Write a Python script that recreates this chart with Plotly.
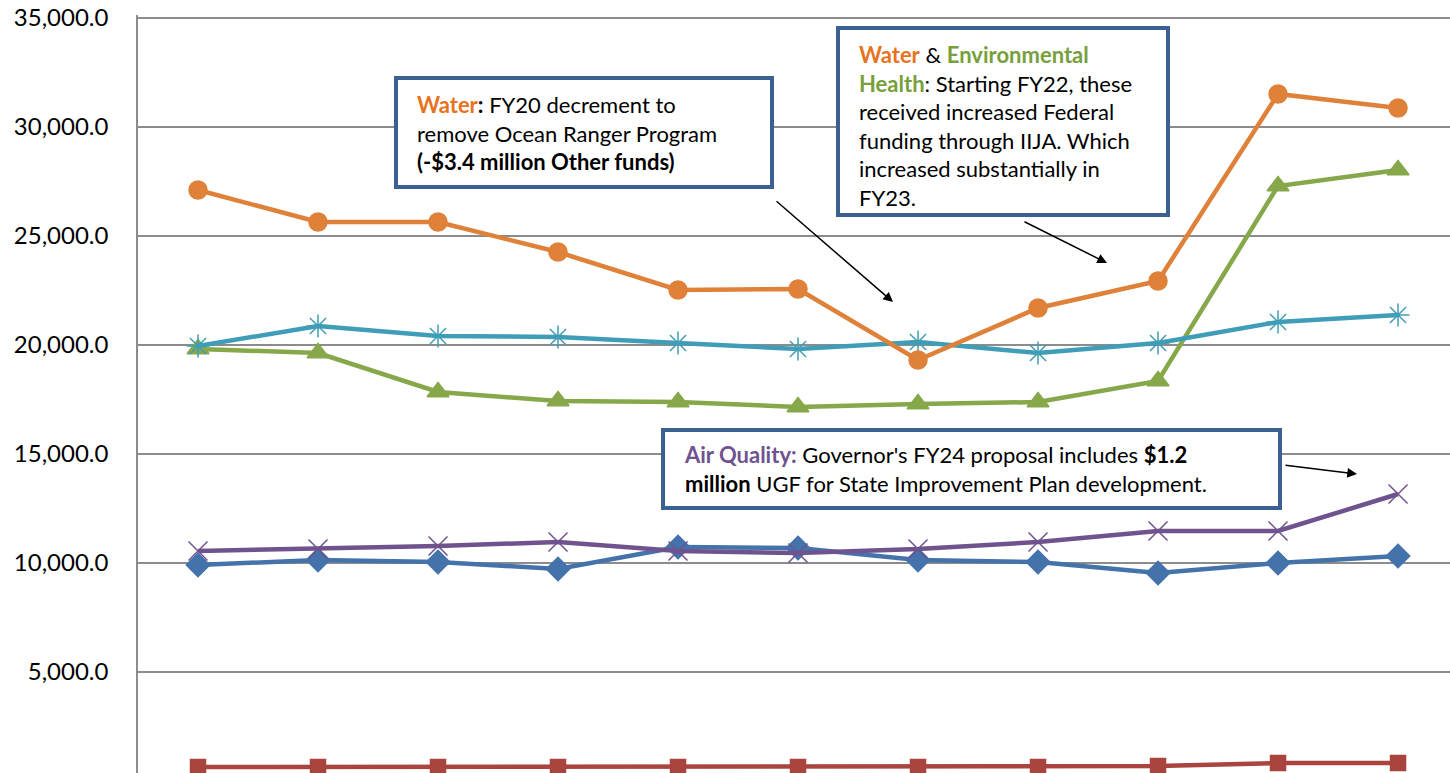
import plotly.graph_objects as go

years = ['FY14', 'FY15', 'FY16', 'FY17', 'FY18', 'FY19', 'FY20', 'FY21', 'FY22', 'FY23', 'FY24']

support = [9908, 10138, 10046, 9725, 10734, 10688, 10138, 10046, 9541, 10000, 10321]
facilities = [642, 642, 642, 642, 642, 642, 642, 642, 688, 826, 826]
env_health = [19817, 19633, 17844, 17431, 17385, 17156, 17294, 17385, 18349, 27294, 28028]
air_quality = [10550, 10642, 10780, 10963, 10550, 10459, 10642, 10963, 11468, 11468, 13165]
spill = [19954, 20872, 20413, 20367, 20092, 19817, 20138, 19633, 20092, 21055, 21376]
water = [27110, 25642, 25642, 24266, 22523, 22569, 19312, 21697, 22936, 31514, 30872]

W, H = 1450, 773
L, T = 138, 15          # plot area left / top in px
FONT = 'Lato'

def px_x(x):
    return (x - L) / (W - L)

def px_y(y):
    return (H - y) / (H - T)

series = [
    ('Statewide Support', support, '#4473AC', 'diamond', 18),
    ('Facilities', facilities, '#A9443F', 'square', 15),
    ('Environmental Health', env_health, '#86A84A', 'triangle-up', 19),
    ('Air Quality', air_quality, '#6F538F', 'x-thin-open', 19),
    ('Spill Prevention', spill, '#3F9DB7', 'asterisk-open', 19),
    ('Water', water, '#DF8139', 'circle', 18),
]

fig = go.Figure()
for name, vals, col, sym, sz in series:
    fig.add_trace(go.Scatter(
        x=years, y=vals, name=name, mode='lines+markers',
        line=dict(color=col, width=4.5),
        marker=dict(symbol=sym, size=sz, color=col, line=dict(color=col, width=1.5)),
    ))

# boxes: (left, top, right, bottom) in px, text start (x, top)
boxes = [
    ((396, 78, 772, 187), (416, 90),
     "<b><span style='color:#E8731E'>Water</span>:</b> FY20 decrement to<br>"
     "remove Ocean Ranger Program<br><b>(-$3.4 million Other funds)</b>"),
    ((838, 28, 1168, 215), (858, 40),
     "<b><span style='color:#E8731E'>Water</span></b> &amp; "
     "<b><span style='color:#77A03C'>Environmental<br>Health</span></b>: Starting FY22, these<br>"
     "received increased Federal<br>funding through IIJA. Which<br>"
     "increased substantially in<br>FY23."),
    ((663, 430, 1280, 508), (683, 440),
     "<b><span style='color:#6F538F'>Air Quality:</span></b> Governor's FY24 proposal includes <b>$1.2<br>"
     "million</b> UGF for State Improvement Plan development."),
]
for (x0, y0, x1, y1), (tx, ty), txt in boxes:
    fig.add_shape(type='rect', xref='paper', yref='paper', layer='above',
                  x0=px_x(x0), x1=px_x(x1), y0=px_y(y1), y1=px_y(y0),
                  line=dict(color='#3B6092', width=4), fillcolor='white')
    fig.add_annotation(text=txt, x=px_x(tx), y=px_y(ty), xref='paper', yref='paper',
                       xanchor='left', yanchor='top', align='left', showarrow=False,
                       borderpad=0, font=dict(family=FONT, size=22, color='black'))

arrows = [((775, 200), (893, 302)), ((1023, 221), (1107, 263)), ((1284, 465), (1357, 474))]
for (x0, y0), (x1, y1) in arrows:
    fig.add_annotation(x=px_x(x1), y=px_y(y1), xref='paper', yref='paper',
                       ax=x0 - x1, ay=y0 - y1, axref='pixel', ayref='pixel',
                       showarrow=True, arrowhead=2, arrowsize=1.3, arrowwidth=1.5,
                       arrowcolor='black', text='')

fig.update_layout(
    width=W, height=H, margin=dict(l=L, r=0, t=T, b=0, autoexpand=False),
    plot_bgcolor='white', paper_bgcolor='white', showlegend=False,
    font=dict(family=FONT, color='black'),
)
fig.update_xaxes(range=[-0.5, 10.433], showticklabels=False, showgrid=False,
                 zeroline=False, showline=False, automargin=False)
fig.update_yaxes(range=[367, 35138], tickvals=[5000, 10000, 15000, 20000, 25000, 30000, 35000],
                 tickformat=',.1f', tickfont=dict(family=FONT, size=24, color='black'),
                 showgrid=True, gridcolor='#8C8C8C', gridwidth=1.5, zeroline=False,
                 showline=True, linecolor='#8C8C8C', linewidth=1.5, ticklabelstandoff=23,
                 ticklabeloverflow='allow', automargin=False)

# drop the default 8px body margin so the figure fills the window
fig.write_html('out.html', config={'displayModeBar': False},
               post_script="document.body.style.margin='0px';")
